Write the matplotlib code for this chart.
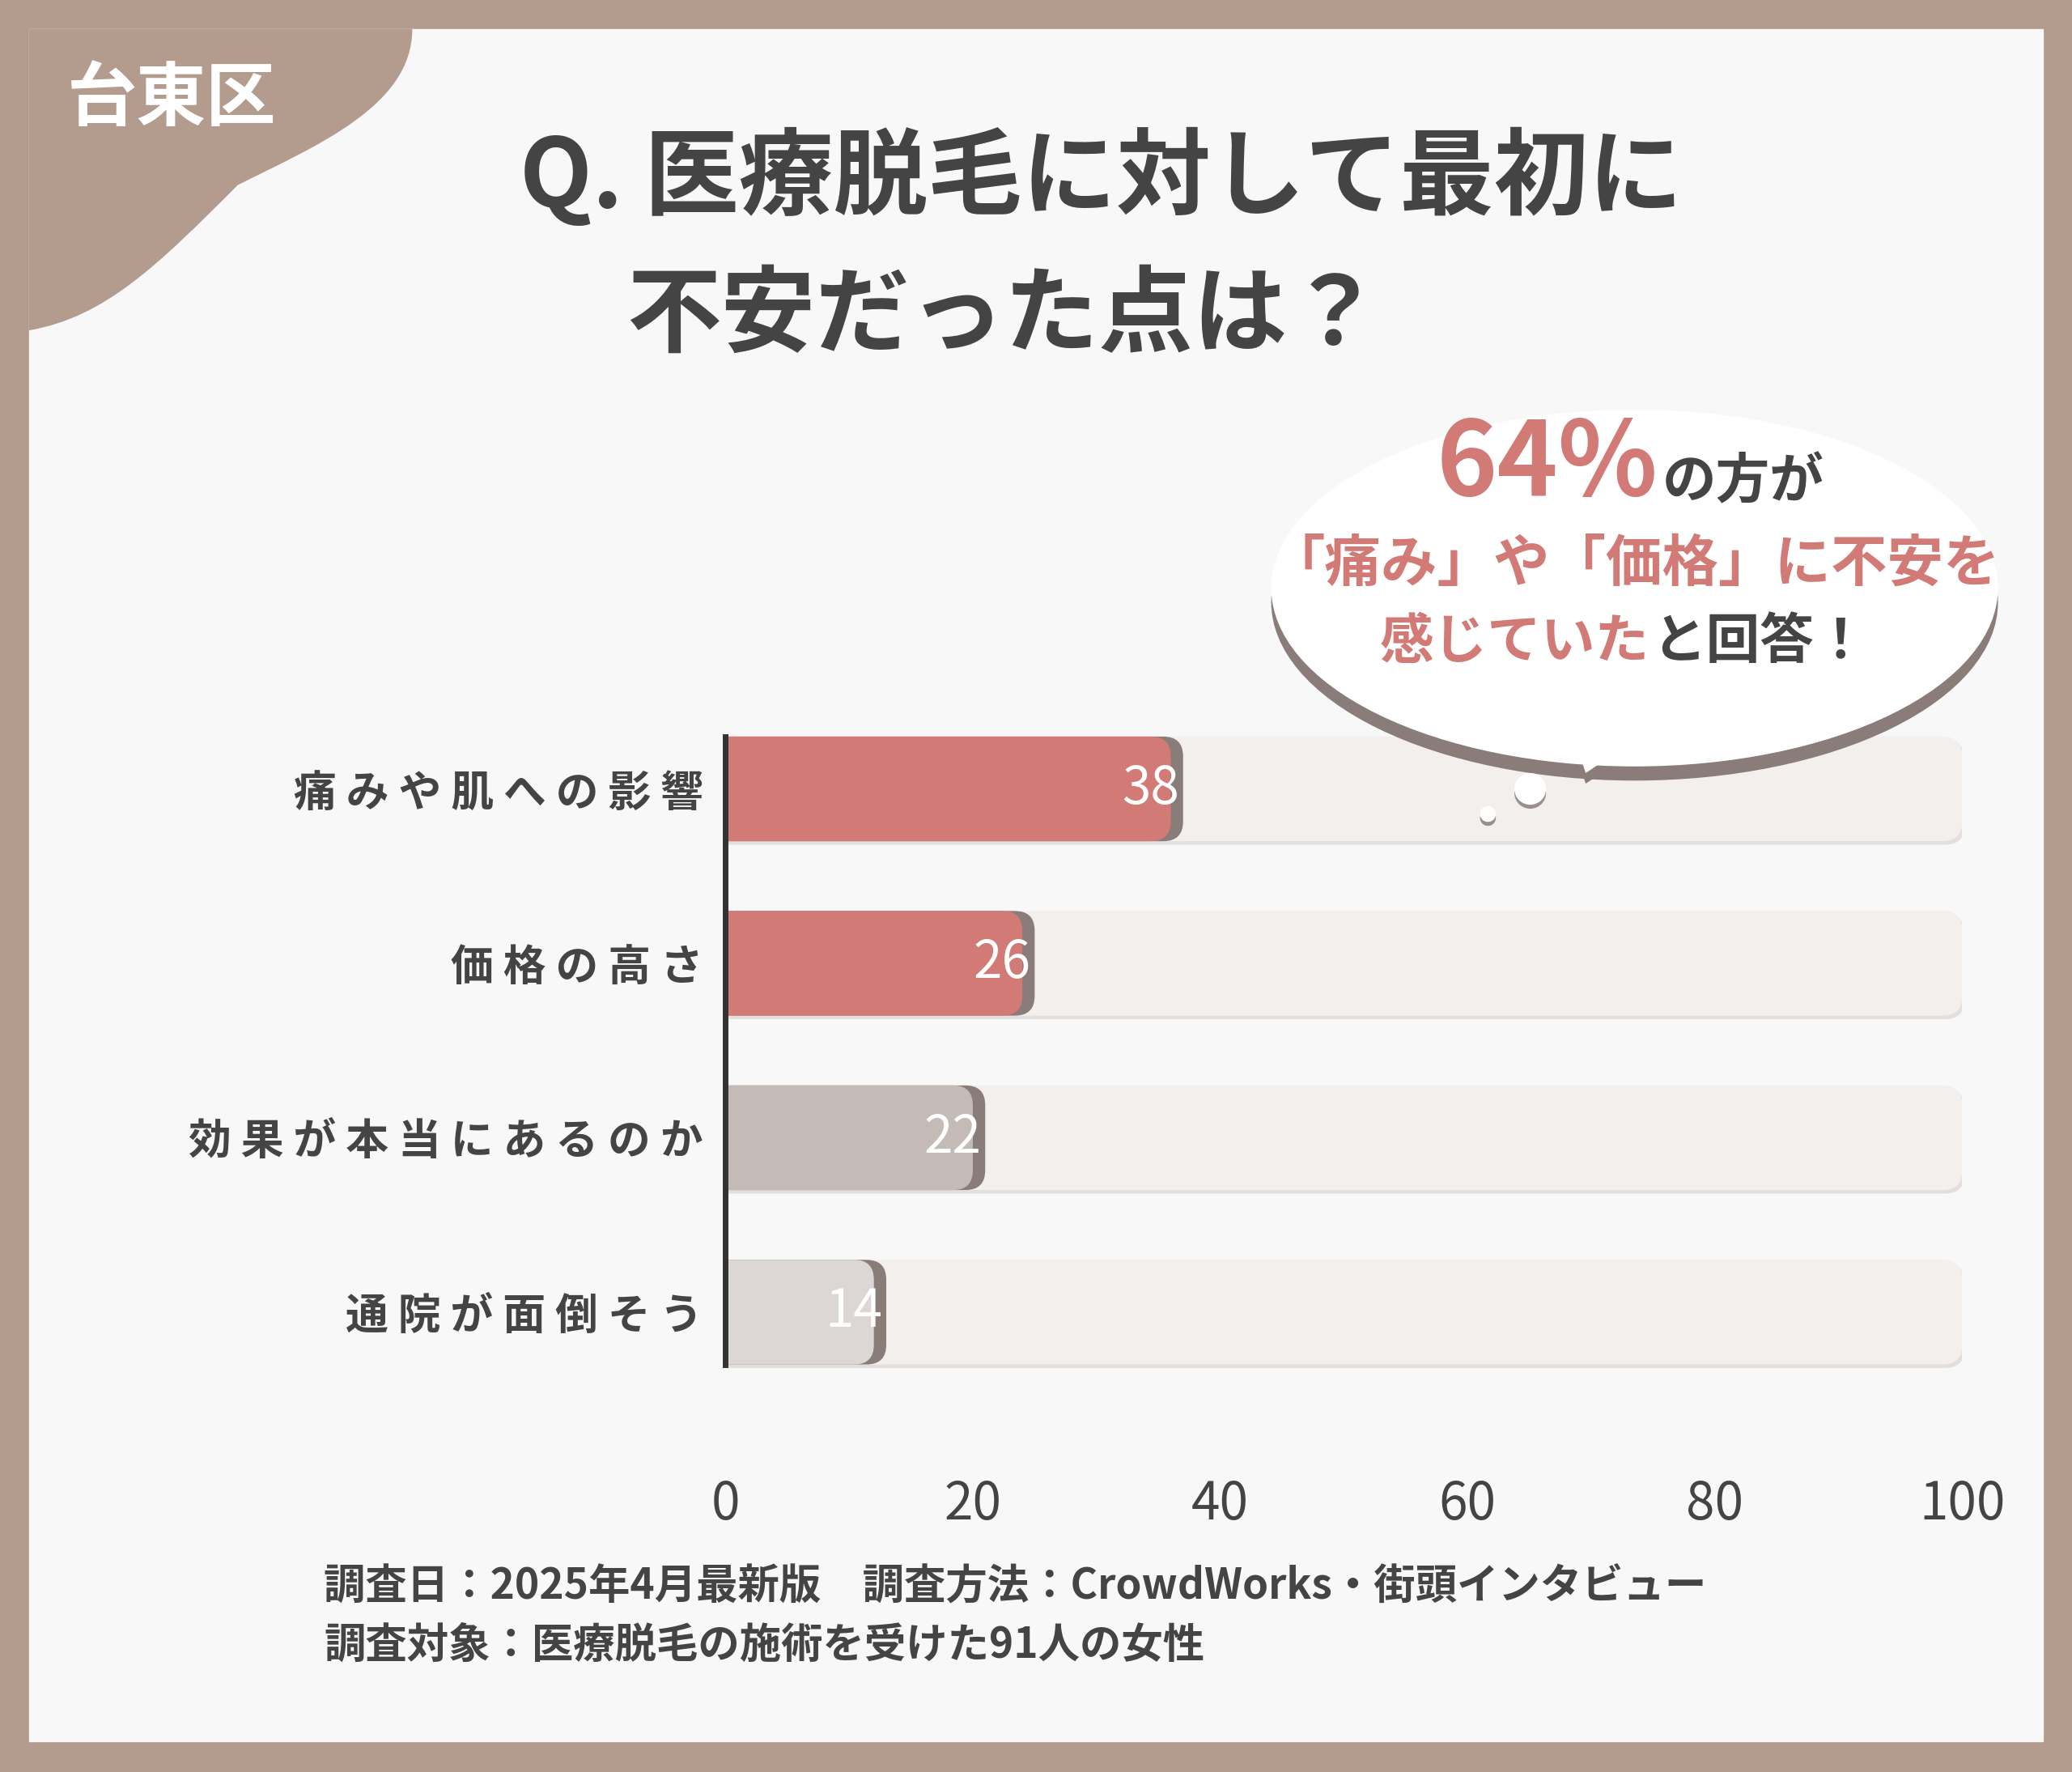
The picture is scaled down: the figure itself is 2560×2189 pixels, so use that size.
import matplotlib.pyplot as plt
from matplotlib.patches import FancyBboxPatch, Ellipse, Polygon, PathPatch, Rectangle
from matplotlib.path import Path

plt.rcParams['font.family'] = 'Noto Sans CJK JP'

categories = ['痛みや肌への影響', '価格の高さ', '効果が本当にあるのか', '通院が面倒そう']
values = [38, 26, 22, 14]
bar_colors = ['#d17a76', '#d17a76', '#c4bab6', '#dcd6d5']
ticks = [0, 20, 40, 60, 80, 100]

W, H = 1568, 1341
def fx(x): return x / W
def fy(y): return 1 - y / H

fig = plt.figure(figsize=(25.6, 21.89), dpi=100)
fig.patch.set_facecolor('#b39b8e')
fig.patches.append(Rectangle((fx(22), fy(1318)), fx(1546) - fx(22), fy(22) - fy(1318),
                             transform=fig.transFigure, color='#f8f8f8', zorder=0))

# corner blob
verts = [(22, 22), (312, 22), (312, 80), (240, 110), (180, 140), (120, 200), (80, 240), (22, 250), (22, 22)]
codes = [Path.MOVETO, Path.LINETO, Path.CURVE4, Path.CURVE4, Path.CURVE4, Path.CURVE4, Path.CURVE4, Path.CURVE4, Path.CLOSEPOLY]
path = Path([(fx(x), fy(y)) for x, y in verts], codes)
fig.patches.append(PathPatch(path, transform=fig.transFigure, color='#b39b8e', lw=0, zorder=1))
fig.text(fx(130), fy(75), '台東区', fontsize=62, color='white', weight='bold', ha='center', va='center')

fig.text(fx(833), fy(135), 'Q. 医療脱毛に対して最初に', fontsize=84, color='#444444', weight='bold', ha='center', va='center')
fig.text(fx(760), fy(240), '不安だった点は？', fontsize=84, color='#444444', weight='bold', ha='center', va='center')

ax = fig.add_axes([fx(549), fy(1059), fx(1485) - fx(549), fy(531) - fy(1059)], zorder=1.5)
ax.set_xlim(0, 100)
ax.set_ylim(3.5, -0.5)
ax.patch.set_alpha(0)
asp = (4 / 528) / (100 / 936)
bh = 0.6
for i, (v, c) in enumerate(zip(values, bar_colors)):
    ax.add_patch(FancyBboxPatch((-2, i - bh / 2 + 0.02), 102.2, bh, boxstyle='round,pad=0,rounding_size=1.6',
                                mutation_aspect=asp, color='#e4dfdc', lw=0, zorder=1))
    ax.add_patch(FancyBboxPatch((-2, i - bh / 2), 102, bh, boxstyle='round,pad=0,rounding_size=1.6',
                                mutation_aspect=asp, color='#f3efec', lw=0, zorder=1.5))
    ax.add_patch(FancyBboxPatch((-2, i - bh / 2), v + 1.0, bh, boxstyle='round,pad=0,rounding_size=1.6',
                                mutation_aspect=asp, color='#8a7d79', lw=0, zorder=2))
    ax.add_patch(FancyBboxPatch((-2, i - bh / 2), v, bh, boxstyle='round,pad=0,rounding_size=1.6',
                                mutation_aspect=asp, color=c, lw=0, zorder=3))
    ax.text(v - 1.3, i, str(v), color='white', fontsize=46, ha='right', va='center', zorder=4)
ax.set_yticks(range(4))
ax.set_yticklabels([' '.join(c) for c in categories], fontsize=38, color='#444444', weight='bold')
ax.set_xticks(ticks)
ax.set_xticklabels([str(t) for t in ticks], fontsize=46, color='#444444')
ax.tick_params(length=0, pad=20)
ax.tick_params(axis='x', pad=70)
for s in ['top', 'right', 'bottom']:
    ax.spines[s].set_visible(False)
ax.spines['left'].set_bounds(-0.3, 3.3)
ax.spines['left'].set_linewidth(5)
ax.spines['left'].set_color('#333333')
ax.spines['left'].set_zorder(5)

# speech bubble
ex, ey, ew, eh = fx(1237), fy(445), fx(550), fy(0) - fy(270)
tail = [(1185, 540), (1200, 585), (1260, 545)]
fig.patches.append(Ellipse((ex, ey - 0.008), ew, eh, transform=fig.transFigure, color='#8a7d79', lw=0, zorder=2))
fig.patches.append(Polygon([(fx(x), fy(y + 8)) for x, y in tail], transform=fig.transFigure, color='#8a7d79', lw=0, zorder=2))
fig.patches.append(Ellipse((ex, ey), ew, eh, transform=fig.transFigure, color='white', lw=0, zorder=3))
fig.patches.append(Polygon([(fx(x), fy(y)) for x, y in tail], transform=fig.transFigure, color='white', lw=0, zorder=3))
for cx, cy, r in [(1158, 597, 12), (1126, 616, 6)]:
    fig.patches.append(Ellipse((fx(cx), fy(cy + 3)), fx(2 * r), fy(0) - fy(2 * r), transform=fig.transFigure, color='#9a8f8b', lw=0, zorder=6))
    fig.patches.append(Ellipse((fx(cx), fy(cy)), fx(2 * r), fy(0) - fy(2 * r), transform=fig.transFigure, color='white', lw=0, zorder=7))

red = '#d17a76'
fig.text(fx(1255), fy(352), '64%', fontsize=92, color=red, weight='bold', ha='right', va='center', zorder=10)
fig.text(fx(1258), fy(365), 'の方が', fontsize=48, color='#444444', weight='bold', ha='left', va='center', zorder=10)
fig.text(fx(1237), fy(427), '「痛み」や「価格」に不安を', fontsize=50, color=red, weight='bold', ha='center', va='center', zorder=10)
fig.text(fx(1248), fy(486), '感じていた', fontsize=48, color=red, weight='bold', ha='right', va='center', zorder=10)
fig.text(fx(1250), fy(486), 'と回答！', fontsize=48, color='#444444', weight='bold', ha='left', va='center', zorder=10)

fig.text(fx(245), fy(1200), '調査日：2025年4月最新版　調査方法：CrowdWorks・街頭インタビュー', fontsize=37, color='#444444', weight='bold', va='center')
fig.text(fx(245), fy(1245), '調査対象：医療脱毛の施術を受けた91人の女性', fontsize=37, color='#444444', weight='bold', va='center')

fig.savefig('out.png', dpi=100, facecolor=fig.get_facecolor())
